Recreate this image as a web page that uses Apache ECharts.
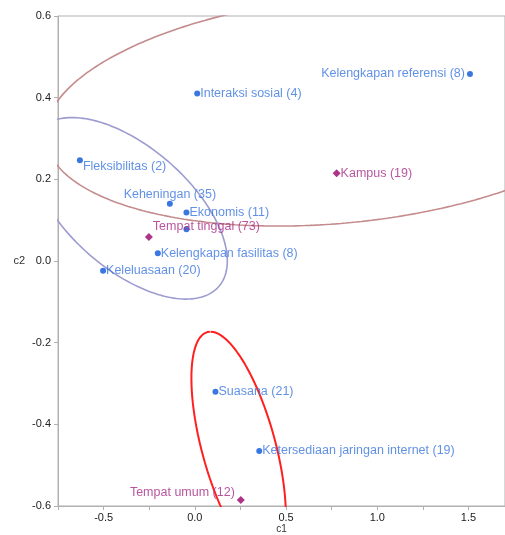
<!DOCTYPE html>
<html><head><meta charset="utf-8">
<script src="https://cdn.jsdelivr.net/npm/echarts@6/dist/echarts.min.js"></script>
<style>html,body{margin:0;padding:0;background:#fff}#c{width:505px;height:535px}</style>
</head><body><div id="c"></div>
<script>
// Column (blue) points
const colNames = ["Kelengkapan referensi (8)","Interaksi sosial (4)","Fleksibilitas (2)","Keheningan (35)","Ekonomis (11)","Kelengkapan fasilitas (8)","Keleluasaan (20)","Suasana (21)","Ketersediaan jaringan internet (19)",""];
const colC1 = [1.508, 0.013, -0.63, -0.137, -0.046, -0.203, -0.503, 0.113, 0.353, -0.046];
const colC2 = [0.458, 0.41, 0.247, 0.14, 0.119, 0.019, -0.024, -0.32, -0.465, 0.078];
// Row (purple) points
const rowNames = ["Kampus (19)","Tempat tinggal (73)","Tempat umum (12)"];
const rowC1 = [0.777, -0.252, 0.252];
const rowC2 = [0.215, 0.059, -0.585];
// Ellipses: centre and two conjugate semi-diameters (data units)
const ellCx = [0.80, -0.36, 0.24];
const ellCy = [0.37, 0.129, -0.455];
const ellU = [[1.62, 0.06], [0.538, -0.129], [-0.154, 0.282]];
const ellV = [[0, 0.278], [0, 0.181], [0.208, 0]];
// Axis ticks
const xMin = -0.75, xMax = 1.7, xStep = 0.25;
const yMin = -0.6, yMax = 0.6, yStep = 0.2;

// styles
const ellColors = ['#c48c8c', '#9c9cd0', '#ff1f1f'];
const ellWidths = [1.6, 1.6, 2];
const labelStyle = {
  "Kelengkapan referensi (8)": {position:'left', offset:[0,0]},
  "Keheningan (35)": {position:'top', offset:[0,2]},
  "Fleksibilitas (2)": {position:'right', offset:[-2,6]},
  "Tempat tinggal (73)": {position:'right', offset:[-2,-10]},
  "Tempat umum (12)": {position:'left', offset:[0,-7]}
};
function lab(name){ const s = labelStyle[name] || {position:'right', offset:[-2,0]}; return s; }

const font = 'Liberation Sans';
const colData = colNames.map((n,i)=>{ const s=lab(n); return {name:n, value:[colC1[i], colC2[i]], label:{show:n!=='', position:s.position, offset:s.offset}}; });
const rowData = rowNames.map((n,i)=>{ const s=lab(n); return {name:n, value:[rowC1[i], rowC2[i]], label:{show:true, position:s.position, offset:s.offset}}; });

const ellSeries = ellCx.map((cx,k)=>{
  const pts=[];
  for(let j=0;j<=360;j++){ const t=j*Math.PI/180;
    pts.push([cx + ellU[k][0]*Math.cos(t) + ellV[k][0]*Math.sin(t),
              ellCy[k] + ellU[k][1]*Math.cos(t) + ellV[k][1]*Math.sin(t)]); }
  return {type:'line', data:pts, showSymbol:false, symbol:'none', clip:true, silent:true, z:1,
    lineStyle:{color:ellColors[k], width:ellWidths[k]}};
});

const chart = echarts.init(document.getElementById('c'), null, {renderer:'canvas'});
chart.setOption({
  animation:false,
  grid:{left:58, top:16, right:0, bottom:29, outerBoundsMode:'none', containLabel:false, show:true, borderColor:'#b0b0b0', borderWidth:1},
  xAxis:{type:'value', min:xMin, max:xMax, interval:xStep, name:'c1', nameLocation:'middle', nameGap:18, nameMoveOverlap:false,
    nameTextStyle:{color:'#333', fontSize:10, fontFamily:font},
    axisLine:{show:true, onZero:false, lineStyle:{color:'#b0b0b0'}}, axisTick:{show:true, length:4, lineStyle:{color:'#b0b0b0'}},
    splitLine:{show:false},
    axisLabel:{color:'#222', fontSize:11, fontFamily:font, margin:6, showMaxLabel:false,
      formatter:v=>{ const r=Math.round(v*2); return Math.abs(v*2-r)<1e-6 ? v.toFixed(1) : ''; }}},
  yAxis:{type:'value', min:yMin, max:yMax, interval:yStep, name:'c2', nameLocation:'middle', nameGap:33, nameRotate:0, nameMoveOverlap:false,
    nameTextStyle:{color:'#333', fontSize:11, fontFamily:font},
    axisLine:{show:true, onZero:false, lineStyle:{color:'#b0b0b0'}}, axisTick:{show:true, length:4, lineStyle:{color:'#b0b0b0'}},
    splitLine:{show:false},
    axisLabel:{color:'#222', fontSize:11, fontFamily:font, margin:7, formatter:v=>v.toFixed(1)}},
  series:[...ellSeries,
    {type:'scatter', data:colData, symbol:'circle', symbolSize:6, z:3,
      itemStyle:{color:'#0a55d8'},
      label:{color:'#3a76de', fontSize:12.5, fontFamily:font, distance:2, formatter:p=>p.name}},
    {type:'scatter', data:rowData, symbol:'diamond', symbolSize:8, z:4,
      itemStyle:{color:'#99006b'},
      label:{color:'#a82a86', fontSize:12.5, fontFamily:font, distance:2, formatter:p=>p.name}}
  ]
});
</script></body></html>
